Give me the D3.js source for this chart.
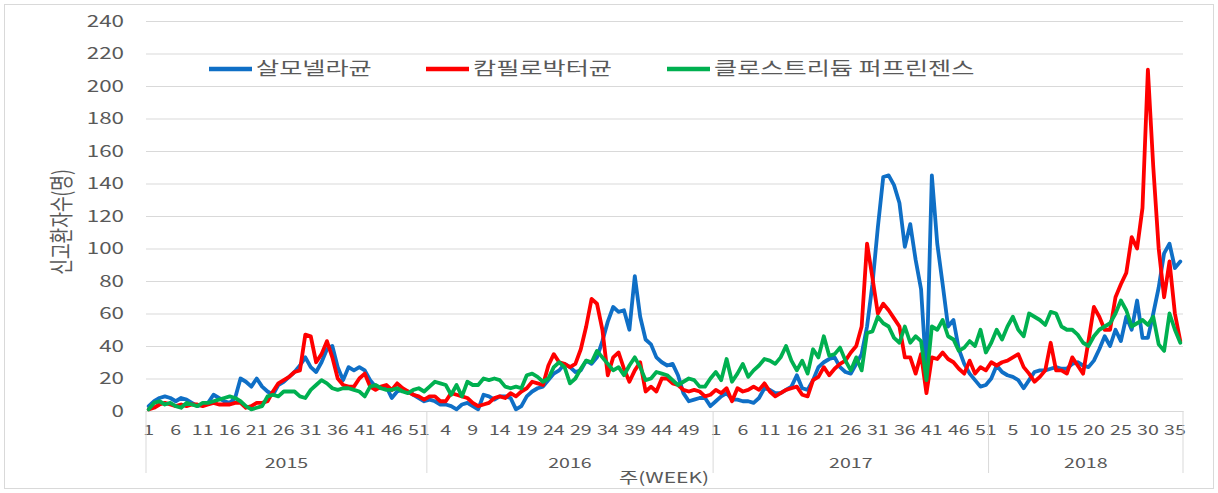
<!DOCTYPE html>
<html>
<head>
<meta charset="utf-8">
<script src="https://cdn.jsdelivr.net/npm/d3@7"></script>
<style>
  body { margin: 0; background: #fff; }
  text { font-family: "Noto Sans CJK KR", "Noto Sans", sans-serif; fill: #595959; }
</style>
</head>
<body>
<svg id="chart" width="1218" height="493"></svg>
<script>
// year groups on the category axis and how many weeks each one holds
const years = ["2015", "2016", "2017", "2018"];
const weeksPerYear = [52, 53, 51, 36];
const yTicks = [0, 20, 40, 60, 80, 100, 120, 140, 160, 180, 200, 220, 240];

const seriesNames = ["살모넬라균", "캄필로박터균", "클로스트리듐 퍼프린젠스"];
const seriesColors = ["#0f6fc6", "#ff0000", "#00b050"];

// weekly reported cases
const salmonella = [
  // 2015
  3,6,8,9,8,6,8,7,5,3, 4,5,10,8,6,5,8,20,18,15, 20,15,12,10,16,18,21,24,28,33,
  27,24,30,38,40,27,19,27,25,27, 25,19,15,14,15,8,12,13,12,10, 8,6,
  // 2016
  7,6,4,4,3,1,4,5,3,1, 10,9,7,9,9,8,1,3,9,12, 14,15,19,23,25,29,27,24,25,31,
  29,33,43,55,64,61,62,50,83,58, 44,41,33,30,28,29,22,11,6,7, 8,8,3,
  // 2017
  6,9,11,7,7,6,6,5,8,14, 13,11,11,13,15,22,14,13,19,27, 30,32,33,27,24,23,29,35,52,78,
  113,144,145,139,128,101,115,93,75,22, 145,103,78,52,56,38,29,23,19,15, 16,
  // 2018
  20,28,24,22,21,19,14,19,24,25, 25,26,27,26,26,29,30,28,27,31,
  38,46,40,50,43,58,50,68,45,45, 60,76,97,103,88,92
];

const campylobacter = [
  // 2015
  1,2,4,5,4,3,4,3,4,4, 3,4,5,4,4,4,5,5,2,3, 5,5,6,12,17,19,21,24,25,47,
  46,30,35,43,33,20,16,15,15,20, 23,15,13,15,16,13,17,14,12,10, 9,7,
  // 2016
  9,9,6,6,11,10,9,8,5,3, 4,5,8,9,8,11,9,12,14,18, 17,16,28,35,30,29,27,29,38,52,
  69,66,50,22,33,36,26,18,25,30, 12,15,12,20,20,17,16,13,12,13, 12,9,10,
  // 2017
  13,11,14,6,14,12,13,15,13,17, 12,9,11,13,14,15,10,9,19,21, 27,22,26,29,31,36,40,52,103,82,
  60,66,62,57,52,33,33,23,35,11, 33,32,36,32,30,26,23,31,23,27, 25,
  // 2018
  30,28,30,31,33,35,27,23,18,21, 25,42,25,25,23,33,28,23,43,64,
  58,50,50,70,78,85,107,100,125,210, 150,100,70,92,60,43
];

const clostridium = [
  // 2015
  1,5,6,4,5,3,2,5,4,3, 5,5,6,7,8,9,8,6,3,1, 2,3,9,10,9,12,12,12,9,8,
  13,16,19,17,14,13,14,14,13,12, 9,15,16,14,13,13,14,12,11,13, 14,12,
  // 2016
  15,18,17,16,10,16,9,18,16,16, 20,19,20,19,15,14,15,14,22,23, 21,18,20,27,30,27,17,20,26,31,
  30,37,33,29,25,27,22,28,33,27, 19,20,24,23,22,19,16,18,20,19, 15,15,20,
  // 2017
  24,19,32,18,23,29,21,25,28,32, 31,29,33,40,31,25,31,23,38,33, 46,34,35,39,31,25,33,25,48,49,
  58,54,52,45,42,52,42,46,43,19, 52,50,56,46,44,37,39,43,40,50, 36,
  // 2018
  42,50,44,52,58,50,46,60,58,56, 53,61,60,52,50,50,47,42,40,46,
  50,52,54,60,68,62,52,54,56,53, 58,41,37,60,50,42
];

const allSeries = [salmonella, campylobacter, clostridium];

// build the week categories
const cats = [];
years.forEach((yr, k) => {
  for (let w = 1; w <= weeksPerYear[k]; w++) cats.push({year: yr, week: w});
});

const W = 1218, H = 493;
const margin = {top: 21, right: 35, bottom: 82, left: 146};
const plotW = W - margin.left - margin.right,
      plotH = H - margin.top - margin.bottom;

// the original picture is stretched sideways, so the text is too
const SX = 1.4;
function stretch(sel, ax) {
  sel.attr("transform", function() {
    const a = ax != null ? ax : +d3.select(this).attr("x") || 0;
    return "translate(" + a + ",0) scale(" + SX + ",1) translate(" + (-a) + ",0)";
  });
}

const svg = d3.select("#chart");

// outer chart border
svg.append("rect")
  .attr("x", 4.5).attr("y", 4.5)
  .attr("width", W - 9).attr("height", H - 9)
  .attr("fill", "#fff").attr("stroke", "#d9d9d9");

const g = svg.append("g")
  .attr("transform", "translate(" + margin.left + "," + margin.top + ")");

const x = d3.scaleBand()
  .domain(d3.range(cats.length))
  .range([0, plotW])
  .padding(0);

const y = d3.scaleLinear()
  .domain([0, 240])
  .range([plotH, 0]);

// gridlines + y labels
const yAxis = g.append("g")
  .call(d3.axisLeft(y).tickValues(yTicks).tickSize(-plotW).tickPadding(22));
yAxis.select(".domain").remove();
yAxis.selectAll("line").attr("stroke", "#d9d9d9");
yAxis.selectAll("text").style("font-size", "16px").attr("fill", "#595959")
  .call(stretch);

// x axis with week labels
const xAxis = g.append("g")
  .attr("transform", "translate(0," + plotH + ")")
  .call(d3.axisBottom(x)
    .tickValues(d3.range(0, cats.length, 5))
    .tickFormat(i => cats[i].week)
    .tickSize(0)
    .tickPadding(14));
xAxis.select(".domain").attr("stroke", "#d9d9d9");
xAxis.selectAll("text").style("font-size", "14px").attr("fill", "#595959")
  .call(stretch, 0);

// year group separators and labels
let start = 0;
const bounds = [0];
weeksPerYear.forEach(n => { start += n; bounds.push(start); });
bounds.forEach(b => {
  const px = b < cats.length ? x(b) : plotW;
  g.append("line")
    .attr("x1", px).attr("x2", px)
    .attr("y1", plotH).attr("y2", plotH + 62)
    .attr("stroke", "#d9d9d9");
});
years.forEach((yr, k) => {
  const a = x(bounds[k]);
  const b = bounds[k + 1] < cats.length ? x(bounds[k + 1]) : plotW;
  g.append("text")
    .attr("x", (a + b) / 2).attr("y", plotH + 57)
    .attr("text-anchor", "middle")
    .style("font-size", "14px")
    .text(yr)
    .call(stretch);
});

// series lines
const line = d3.line()
  .x((d, i) => x(i) + x.bandwidth() / 2)
  .y(d => y(d));

allSeries.forEach((s, k) => {
  g.append("path")
    .datum(s)
    .attr("fill", "none")
    .attr("stroke", seriesColors[k])
    .attr("stroke-width", 3.8)
    .attr("stroke-linejoin", "round")
    .attr("stroke-linecap", "round")
    .attr("d", line);
});

// axis titles
svg.append("text")
  .attr("transform", "translate(62,222) scale(" + SX + ",1) rotate(-90)")
  .attr("text-anchor", "middle")
  .attr("dy", "0.35em")
  .style("font-size", "17px")
  .text("신고환자수(명)");

svg.append("text")
  .attr("x", 664).attr("y", 483)
  .attr("text-anchor", "middle")
  .style("font-size", "15px")
  .text("주(WEEK)")
  .call(stretch);

// legend
const legendX = [209, 426, 667];
const legend = svg.append("g");
seriesNames.forEach((name, k) => {
  legend.append("line")
    .attr("x1", legendX[k]).attr("x2", legendX[k] + 43)
    .attr("y1", 69).attr("y2", 69)
    .attr("stroke", seriesColors[k])
    .attr("stroke-width", 4.5);
  legend.append("text")
    .attr("x", legendX[k] + 47).attr("y", 75)
    .style("font-size", "18px")
    .text(name)
    .call(stretch);
});
</script>
</body>
</html>
